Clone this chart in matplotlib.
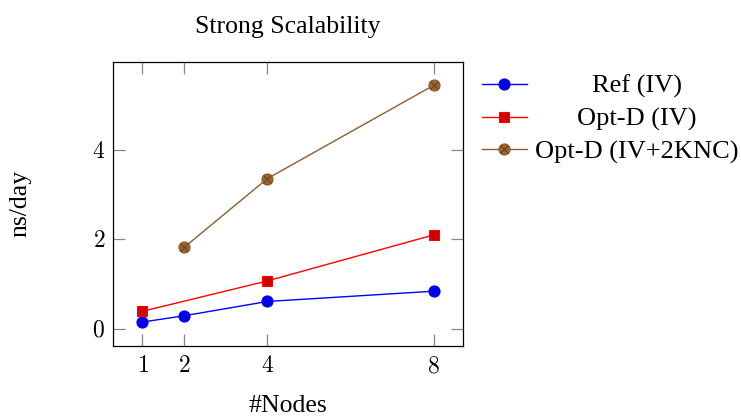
import matplotlib
matplotlib.use('Agg')
import matplotlib.pyplot as plt
from matplotlib.lines import Line2D
from matplotlib.ticker import FuncFormatter

plt.rcParams['font.family'] = ['Liberation Serif', 'DejaVu Serif']
plt.rcParams['mathtext.fontset'] = 'cm'

# measured ns/day per node count
nodes_ref = [1, 2, 4, 8]
ref_iv = [0.15, 0.29, 0.61, 0.84]

nodes_optd = [1, 4, 8]
optd_iv = [0.39, 1.07, 2.10]

nodes_knc = [2, 4, 8]
optd_knc = [1.82, 3.36, 5.45]

labels = ['Ref (IV)', 'Opt-D (IV)', 'Opt-D (IV+2KNC)']
xticks = [1, 2, 4, 8]
yticks = [0, 2, 4]

fig = plt.figure(figsize=(7.41, 4.16), dpi=100)
ax = fig.add_axes([0.153, 0.169, 0.4714, 0.6827])

brown_line = '#8a5d33'
brown_fill = '#996633'

ax.plot(nodes_ref, ref_iv, color='blue', lw=1, marker='o', ms=8,
        mfc='#0000e0', mec='blue', mew=0.8)
ax.plot(nodes_optd, optd_iv, color='red', lw=1, marker='s', ms=7.5,
        mfc='#d00000', mec='red', mew=0.8)
ax.plot(nodes_knc, optd_knc, color=brown_line, lw=1, marker='o', ms=8,
        mfc=brown_fill, mec=brown_line, mew=0.8)
# cross inside the circle (otimes marker)
ax.plot(nodes_knc, optd_knc, ls='none', marker='x', ms=5.5,
        mec='#5a3a1e', mew=0.6)

ax.set_xlim(0.3, 8.7)
ax.set_ylim(-0.38, 5.98)
ax.set_xticks(xticks)
ax.set_yticks(yticks)
fmt = FuncFormatter(lambda v, p: r'$%d$' % v)
ax.xaxis.set_major_formatter(fmt)
ax.yaxis.set_major_formatter(fmt)
ax.tick_params(direction='in', length=8.5, width=0.9, color='#888888',
               labelsize=17, top=True, right=True)
ax.tick_params(axis='x', pad=7.5)
ax.tick_params(axis='y', pad=6)
for s in ax.spines.values():
    s.set_linewidth(0.9)

ax.set_title('Strong Scalability', fontsize=18.5, pad=20.5)
ax.set_xlabel('#Nodes', fontsize=18.5)
ax.set_ylabel('ns/day', fontsize=18.5)
ax.xaxis.set_label_coords(0.5, -0.172)
ax.yaxis.set_label_coords(-0.235, 0.5)

# legend drawn by hand so the entry texts stay centred
styles = [
    dict(color='blue', marker='o', ms=8, mfc='#0000e0', mec='blue'),
    dict(color='red', marker='s', ms=7.5, mfc='#d00000', mec='red'),
    dict(color=brown_line, marker='o', ms=8, mfc=brown_fill, mec=brown_line),
]
rows = [0.798, 0.7195, 0.641]
for lab, st, yy in zip(labels, styles, rows):
    fig.add_artist(Line2D([0.650, 0.711], [yy, yy], lw=1, color=st['color']))
    fig.add_artist(Line2D([0.6805], [yy], ls='none', marker=st['marker'],
                          ms=st['ms'], mfc=st['mfc'], mec=st['mec'], mew=0.8))
    fig.text(0.859, yy, lab, fontsize=19, ha='center', va='center_baseline')
fig.add_artist(Line2D([0.6805], [rows[2]], ls='none', marker='x', ms=5.5,
                      mec='#5a3a1e', mew=0.6))

fig.savefig('out.png', dpi=100)
